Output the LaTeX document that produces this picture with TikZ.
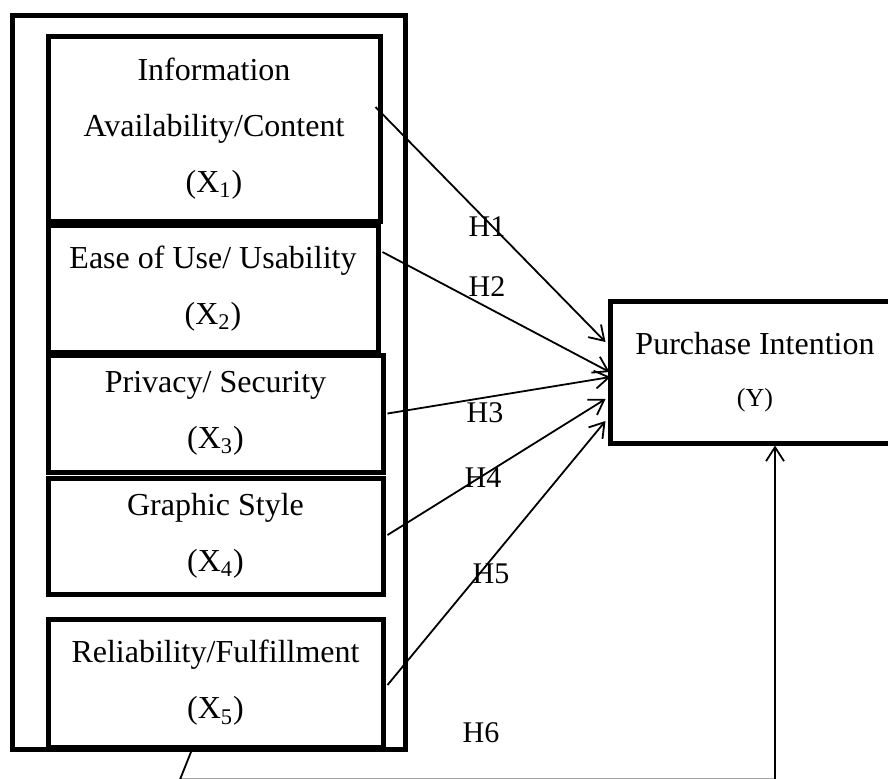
\documentclass[tikz,border=0pt]{standalone}
\usepackage{fontspec}
\setmainfont{Liberation Serif}
\usetikzlibrary{arrows.meta,calc}

\begin{document}
\begin{tikzpicture}[
  x=0.5pt, y=-0.5pt,
  font=\fontsize{16}{28}\selectfont,
  >={Straight Barb[length=7pt,width=9pt]},
  factor/.style={draw, line width=2.5pt, align=center, inner sep=0pt},
  link/.style={->, line width=0.9pt},
  hlabel/.style={font=\fontsize{15}{18}\selectfont, inner sep=0pt},
]
\useasboundingbox (0,0) rectangle (888,778);
% --- frame round the five factors ---
\draw[line width=2.5pt] (12,15) rectangle (405,749);
% --- independent variables ---
\node[factor, minimum width=166pt, minimum height=92.5pt] (info) at (214,128.5)
  {Information\\Availability/Content\\(X\textsubscript{1})};
\node[factor, minimum width=165pt, minimum height=63.5pt] (ease) at (213,288.5)
  {Ease of Use/ Usability\\(X\textsubscript{2})};
\node[factor, minimum width=167.5pt, minimum height=58.5pt] (priv) at (215.5,413.5)
  {Privacy/ Security\\(X\textsubscript{3})};
\node[factor, minimum width=167.5pt, minimum height=58pt] (graph) at (215.5,536)
  {Graphic Style\\(X\textsubscript{4})};
\node[factor, minimum width=167.5pt, minimum height=64pt] (rel) at (215.5,683)
  {Reliability/Fulfillment\\(X\textsubscript{5})};
% --- dependent variable ---
\node[factor, minimum width=145pt, minimum height=71pt] (intent) at (755,372)
  {Purchase Intention\\[-2pt]{\fontsize{13}{28}\selectfont (Y)}};
% --- hypotheses ---
\draw[link] ([shift={(-7,-21.5)}]info.east) -- ([shift={(-2,-30)}]intent.west);
\draw[link] ([shift={(2,-36.5)}]ease.east) -- ([shift={(2,0)}]intent.west);
\draw[link] ([shift={(2,0)}]priv.east) -- ([shift={(3,5)}]intent.west);
\draw[link] ([shift={(2,-1)}]graph.east) -- ([shift={(-2,27)}]intent.west);
\draw[link] ([shift={(2,2)}]rel.east) -- ([shift={(-2,49)}]intent.west);
\draw[link] ([xshift=-11.75pt]rel.south) -- ($(rel.south)+(-35.5,30)$)
  -| ([xshift=10pt]intent.south);
% labels
\node[hlabel] (h1) at (487,227) {H1};
\node[hlabel] (h2) at (487,287) {H2};
\node[hlabel] (h3) at (485,413) {H3};
\node[hlabel] (h4) at (483,478) {H4};
\node[hlabel] (h5) at (491,574) {H5};
\node[hlabel] (h6) at (481,733) {H6};
\end{tikzpicture}
\end{document}
